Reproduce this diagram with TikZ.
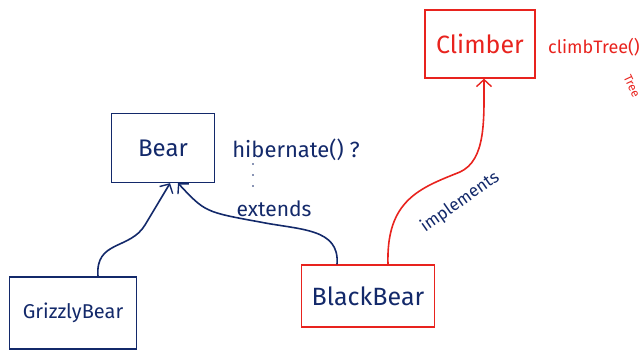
\documentclass[tikz,border=0pt]{standalone}
\usepackage{fontspec}
\setmainfont{Fira Sans}
\usetikzlibrary{arrows.meta}
\definecolor{ink}{HTML}{13296A}
\definecolor{pen}{HTML}{E8231E}
\tikzset{
  classbox/.style={draw, line width=1.3pt, minimum width=#1, inner sep=0pt},
  label/.style={inner sep=0pt},
  link/.style={line width=1.6pt, -{Straight Barb[length=7pt,width=15pt,line width=1.4pt]}},
}
\begin{document}
\begin{tikzpicture}[x=1pt,y=-1pt]
  \useasboundingbox (0,0) rectangle (643,356);

  % classes
  \node[classbox=110pt, pen, minimum height=68pt, text=pen, font=\fontsize{25}{28}\selectfont] (climber) at (480,44) {Climber};
  \node[classbox=103pt, ink, minimum height=69pt, text=ink, font=\fontsize{24}{28}\selectfont] (bear) at (163,148) {Bear};
  \node[classbox=127pt, ink, minimum height=72pt, text=ink, font=\fontsize{20}{24}\selectfont] (grizzly) at (73,313) {GrizzlyBear};
  \node[classbox=133pt, pen, minimum height=62pt, text=ink, font=\fontsize{25}{28}\selectfont] (black) at (368,296) {BlackBear};

  % method notes
  \node[label, text=pen, font=\fontsize{18}{22}\selectfont] (climbtree) at (594,47) {climbTree()};
  \node[label, text=pen, font=\fontsize{12}{14}\selectfont, rotate=-65] (tree) at (632,86) {Tree};
  \node[label, text=ink, font=\fontsize{22}{26}\selectfont] (hibernate) at (296,150) {hibernate() ?};
  \foreach \y in {164,175,186} \fill[ink] (253,\y) circle (0.9pt);

  % inheritance
  \draw[link, ink] ([xshift=25pt]grizzly.north) .. controls (95,240) and (130,250) .. (145,225)
      .. controls (158,205) .. ([xshift=7pt]bear.south);
  \draw[link, ink] ([xshift=-31pt]black.north) .. controls (340,228) and (300,230) .. (260,222)
      .. controls (205,212) .. ([xshift=15pt]bear.south);
  \node[label, text=ink, font=\fontsize{21}{24}\selectfont] (extends) at (274,209) {extends};

  % interface realisation
  \draw[link, pen] ([xshift=20pt]black.north) .. controls (386,200) and (420,188) .. (460,172)
      .. controls (486,160) and (484,120) .. ([xshift=4pt]climber.south);
  \node[label, text=ink, font=\fontsize{17}{20}\selectfont, rotate=35] (implements) at (460,202) {implements};
\end{tikzpicture}
\end{document}
